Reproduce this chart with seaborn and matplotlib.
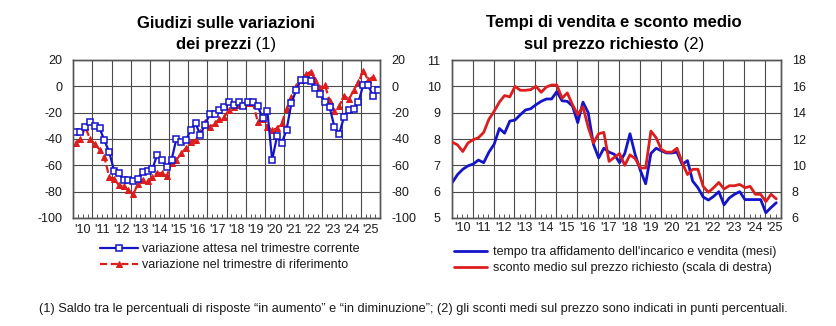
import numpy as np
import pandas as pd
import matplotlib
matplotlib.use("Agg")
import matplotlib.pyplot as plt
import seaborn as sns
from matplotlib import font_manager as fm

# ---------------- data ----------------
year_labels = ["'10", "'11", "'12", "'13", "'14", "'15", "'16", "'17", "'18",
               "'19", "'20", "'21", "'22", "'23", "'24", "'25"]

# left panel: quarterly balances, 2010Q1 ...
expected_change = [-35, -35, -31, -27, -30, -32, -41, -50,
                   -64, -66, -71, -71, -72, -70, -65, -64,
                   -63, -52, -56, -61, -56, -40, -42, -41,
                   -33, -28, -37, -29, -21, -21, -18, -16,
                   -12, -14, -12, -15, -12, -12, -15, -24,
                   -19, -56, -38, -43, -33, -13, -3, 5,
                   5, 4, -1, -6, -12, -16, -31, -36,
                   -23, -18, -17, -12, 1, 1, -7, -3]
reference_change = [-43, -40, -31, -40, -44, -48, -54, -69,
                    -70, -75, -76, -79, -82, -74, -71, -72,
                    -69, -66, -66, -68, -58, -56, -51, -47,
                    -42, -41, -35, -27, -31, -28, -25, -23,
                    -18, -16, -14, -14, -13, -13, -27, -25,
                    -31, -33, -32, -28, -17, -8, 0, 5,
                    9, 11, 5, -1, 1, -11, -19, -15,
                    -7, -10, -3, 3, 12, 5, 7]

# right panel: months (left scale) and discount % (right scale)
selling_time = [6.35, 6.65, 6.85, 6.98, 7.05, 7.2, 7.1, 7.5,
                7.8, 8.4, 8.22, 8.68, 8.72, 8.92, 9.1, 9.15,
                9.3, 9.43, 9.52, 9.52, 9.8, 9.45, 9.43, 9.25,
                8.62, 9.4, 9.0, 7.8, 7.28, 7.65, 7.5, 7.42,
                7.1, 7.45, 8.2, 7.4, 6.8, 6.3, 7.45, 7.65,
                7.55, 7.47, 7.47, 7.5, 7.03, 7.18, 6.4, 6.15,
                5.8, 5.68, 5.82, 6.0, 5.5, 5.76, 5.9, 6.0,
                5.7, 5.7, 5.7, 5.7, 5.2, 5.4, 5.58]
discount = [11.76, 11.55, 11.05, 11.7, 11.95, 12.1, 12.5, 13.5,
            14.1, 14.8, 15.3, 15.2, 16.0, 15.7, 15.7, 15.75,
            16.0, 15.55, 15.95, 16.1, 16.1, 15.1, 15.5, 14.6,
            13.85, 14.45, 12.9, 11.7, 12.4, 12.5, 10.3, 10.6,
            10.9, 10.0, 10.8, 10.5, 9.8, 9.8, 12.6, 12.1,
            11.2, 11.0, 11.0, 11.3, 10.2, 9.3, 9.7, 9.7,
            8.4, 7.95, 8.3, 8.7, 8.2, 8.45, 8.45, 8.55,
            8.3, 8.4, 7.8, 7.8, 7.25, 7.8, 7.45]

left_title = [("Giudizi sulle variazioni", "bold"), None,
              ("dei prezzi", "bold"), (" (1)", "normal")]
right_title = [("Tempi di vendita e sconto medio", "bold"), None,
               ("sul prezzo richiesto", "bold"), (" (2)", "normal")]
lab_blue_l = "variazione attesa nel trimestre corrente"
lab_red_l = "variazione nel trimestre di riferimento"
lab_blue_r = "tempo tra affidamento dell'incarico e vendita (mesi)"
lab_red_r = "sconto medio sul prezzo richiesto (scala di destra)"
footnote = ("(1) Saldo tra le percentuali di risposte \u201cin aumento\u201d e "
            "\u201cin diminuzione\u201d; (2) gli sconti medi sul prezzo sono "
            "indicati in punti percentuali.")

# ---------------- style ----------------
sns.set_theme(style="white")
plt.rcParams["font.family"] = ["Liberation Sans", "DejaVu Sans"]
plt.rcParams["axes.unicode_minus"] = False

W, H = 836, 326
fig = plt.figure(figsize=(W / 100, H / 100), dpi=100)
BLUE = "#1414c8"
RED = "#dc1e1e"
GRID = "#4a4a4a"
TXT = "#1a1a1a"


def px_axes(x0, y0, x1, y1):
    return fig.add_axes([x0 / W, 1 - y1 / H, (x1 - x0) / W, (y1 - y0) / H])


def frame(ax):
    for s in ax.spines.values():
        s.set_color("#555555")
        s.set_linewidth(1.0)


# ---------------- left panel ----------------
axL = px_axes(73.3, 60, 380, 218)
dfL_b = pd.DataFrame({"q": np.arange(len(expected_change)), "v": expected_change})
dfL_r = pd.DataFrame({"q": np.arange(len(reference_change)), "v": reference_change})
sns.lineplot(data=dfL_r, x="q", y="v", ax=axL, color=RED, linewidth=1.6,
             linestyle=(0, (3.2, 1.6)), marker="^", markersize=4.2,
             markeredgecolor=RED, markerfacecolor=RED, label=lab_red_l, zorder=3)
sns.lineplot(data=dfL_b, x="q", y="v", ax=axL, color=BLUE, linewidth=1.6,
             marker="s", markersize=4.6, markerfacecolor="white",
             markeredgecolor=BLUE, markeredgewidth=1.1, label=lab_blue_l, zorder=4)
nq = 64
axL.set_xlim(-0.5, nq - 0.5)
axL.set_ylim(-100, 20)
axL.set_yticks(np.arange(-100, 21, 20))
axL.set_xticks([-0.5 + 4 * k for k in range(1, 16)])
axL.set_xticklabels([])
axL.set_xticks(np.arange(-0.5, nq, 1), minor=True)
axL.grid(True, which="major", color=GRID, linewidth=0.8)
axL.tick_params(axis="x", which="major", length=0)
axL.tick_params(axis="x", which="minor", direction="in", length=3, width=0.7,
                color="#555555", bottom=True, top=False)
axL.tick_params(axis="y", length=0, pad=8, labelsize=9, labelcolor=TXT)
axL.set_xlabel("")
axL.set_ylabel("")
frame(axL)
for k, lab in enumerate(year_labels):
    axL.text(1.5 + 4 * k, -104.5, lab, ha="center", va="top", fontsize=9,
             color=TXT, transform=axL.transData)
axL2 = axL.twinx()
axL2.set_ylim(-100, 20)
axL2.set_yticks(np.arange(-100, 21, 20))
axL2.tick_params(axis="y", length=0, pad=8, labelsize=9, labelcolor=TXT)
axL2.grid(False)
frame(axL2)
hL, lL = axL.get_legend_handles_labels()
legL = axL.legend(hL[::-1], lL[::-1], loc="upper left",
                  bbox_to_anchor=(100 / W, 1 - 243 / H),
                  bbox_transform=fig.transFigure, frameon=False, fontsize=9,
                  handlelength=3.0, handletextpad=0.4, labelspacing=0.35,
                  borderaxespad=0, borderpad=0)
for t in legL.get_texts():
    t.set_color(TXT)

# ---------------- right panel ----------------
axR = px_axes(451.7, 60, 780.7, 218)
tR = 2010 + np.arange(len(selling_time)) / 4 + 0.03
dfR_b = pd.DataFrame({"t": tR, "v": selling_time})
sns.lineplot(data=dfR_b, x="t", y="v", ax=axR, color=BLUE, linewidth=2.0,
             label=lab_blue_r, zorder=3)
axR2 = axR.twinx()
dfR_r = pd.DataFrame({"t": 2010 + np.arange(len(discount)) / 4 + 0.03, "v": discount})
sns.lineplot(data=dfR_r, x="t", y="v", ax=axR2, color=RED, linewidth=2.0,
             label=lab_red_r, zorder=3)
xend = 2025.74
axR.set_xlim(2010, xend)
axR.set_ylim(5, 11)
axR2.set_ylim(6, 18)
axR.set_yticks(range(5, 12))
axR2.set_yticks(range(6, 19, 2))
axR.set_xticks(range(2011, 2026))
axR.set_xticklabels([])
axR.set_xticks(np.arange(2010, xend, 0.25), minor=True)
axR.grid(True, which="major", color=GRID, linewidth=0.8)
axR2.grid(False)
axR.tick_params(axis="x", which="major", length=0)
axR.tick_params(axis="x", which="minor", direction="in", length=3, width=0.7,
                color="#555555", bottom=True, top=False)
axR.tick_params(axis="y", length=0, pad=8, labelsize=9, labelcolor=TXT)
axR2.tick_params(axis="y", length=0, pad=8, labelsize=9, labelcolor=TXT)
for a in (axR, axR2):
    a.set_xlabel("")
    a.set_ylabel("")
    frame(a)
for k, lab in enumerate(year_labels):
    xc = 2010.5 + k if k < 15 else 2025.42
    axR.text(xc, 4.85, lab, ha="center", va="top", fontsize=9, color=TXT,
             transform=axR.transData)
hb, lb = axR.get_legend_handles_labels()
hr, lr = axR2.get_legend_handles_labels()
if axR2.get_legend() is not None:
    axR2.get_legend().remove()
legR = axR.legend(hb + hr, lb + lr, loc="upper left",
                  bbox_to_anchor=(454 / W, 1 - 246 / H),
                  bbox_transform=fig.transFigure, frameon=False, fontsize=9,
                  handlelength=2.6, handletextpad=0.5, labelspacing=0.35,
                  borderaxespad=0, borderpad=0)
for t in legR.get_texts():
    t.set_color(TXT)

# ---------------- titles ----------------
def mixed_title(parts, cx, ys, size=12):
    lines, cur = [], []
    for p in parts:
        if p is None:
            lines.append(cur)
            cur = []
        else:
            cur.append(p)
    lines.append(cur)
    fig.canvas.draw()
    r = fig.canvas.get_renderer()
    for line, cy in zip(lines, ys):
        texts = [fig.text(0, 0, s, fontsize=size, fontweight=w, ha="left",
                          va="center", color="black") for s, w in line]
        widths = [t.get_window_extent(r).width for t in texts]
        x = cx - sum(widths) / 2
        for t, w in zip(texts, widths):
            t.set_position((x / W, 1 - cy / H))
            x += w

mixed_title(left_title, 226, [23, 45])
mixed_title(right_title, 614, [23, 45])

# ---------------- footnote ----------------
names = {f.name for f in fm.fontManager.ttflist}
if "Liberation Sans Narrow" in names:
    fig.text(413 / W, 1 - 309 / H, footnote, ha="center", va="center",
             fontsize=11, family=["Liberation Sans Narrow", "DejaVu Sans"], color=TXT)
else:
    fig.text(413 / W, 1 - 309 / H, footnote, ha="center", va="center",
             fontsize=9.2, color=TXT)

fig.savefig("out.png", dpi=100)
